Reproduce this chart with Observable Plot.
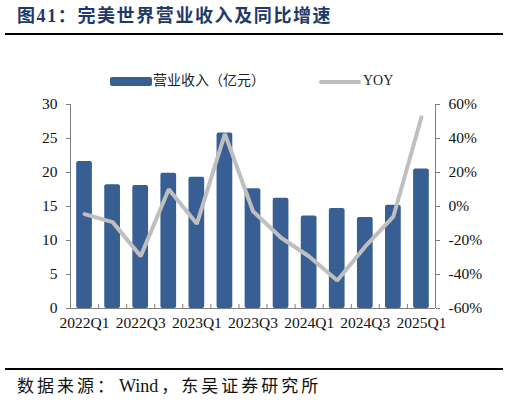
<!DOCTYPE html>
<html><head><meta charset="utf-8">
<script src="https://cdn.jsdelivr.net/npm/d3@7"></script>
<script src="https://cdn.jsdelivr.net/npm/@observablehq/plot@0.6"></script>
<style>
body{margin:0;background:#fff}
#wrap{position:relative;width:509px;height:402px;overflow:hidden;background:#fff}
#title{position:absolute;left:17px;top:4px;font-family:"Liberation Serif","Noto Sans CJK SC",serif;font-weight:bold;font-size:18px;letter-spacing:1.6px;color:#1F3A68;white-space:nowrap;line-height:24px}
.rule{position:absolute;left:5px;width:498px;height:2px;background:#000}
#legend{position:absolute;top:72px;left:0;width:509px;height:18px;font-family:"Liberation Serif","Noto Sans CJK SC",serif;font-size:14px;color:#222;white-space:nowrap}
.sw{position:absolute}
.lt{position:absolute;top:0;line-height:18px}
#chart{position:absolute;left:0;top:90px}
#source{position:absolute;left:17px;top:375px;font-family:"Liberation Serif","Noto Sans CJK SC",serif;font-size:17px;letter-spacing:3px;color:#111;white-space:nowrap;line-height:22px}
#source .lat{letter-spacing:0;font-size:18px;margin:0 3px 0 2px}
</style></head><body>
<div id="wrap">
<div id="title">图41：完美世界营业收入及同比增速</div>
<div class="rule" style="top:33px"></div>
<div id="legend"></div>
<div id="chart"></div>
<div class="rule" style="top:368px"></div>
<div id="source">数据来源：<span class="lat">Wind</span>，东吴证券研究所</div>
</div>
<script>
const quarters = ["2022Q1","2022Q2","2022Q3","2022Q4","2023Q1","2023Q2","2023Q3","2023Q4","2024Q1","2024Q2","2024Q3","2024Q4","2025Q1"];
const revenue = [21.6, 18.2, 18.1, 19.9, 19.3, 25.8, 17.6, 16.2, 13.6, 14.7, 13.4, 15.2, 20.5];
const yoy = [-4.5, -9.2, -29.2, 10.2, -10.2, 42.7, -2.8, -18.4, -29.4, -43.5, -23.5, -5.9, 52.5];
const leftTicks = [0, 5, 10, 15, 20, 25, 30];
const rightTicks = [-60, -40, -20, 0, 20, 40, 60];
const seriesNames = ["营业收入（亿元）", "YOY"];
const barColor = "#375F93";
const lineColor = "#BFBFBF";

const leftDomain = [0, 30];
const rightDomain = [-60, 60];
const toLeft = v => leftDomain[0] + (v - rightDomain[0]) / (rightDomain[1] - rightDomain[0]) * (leftDomain[1] - leftDomain[0]);
const fromLeft = v => rightDomain[0] + (v - leftDomain[0]) / (leftDomain[1] - leftDomain[0]) * (rightDomain[1] - rightDomain[0]);

const data = quarters.map((q, i) => ({q, i, rev: revenue[i], yoy: yoy[i]}));
const xDomain = [-0.5, quarters.length - 0.5];
const boundaries = quarters.slice(1).map((q, i) => i + 0.5);
const labelIdx = quarters.map((q, i) => i).filter(i => i % 2 === 0);
const axisColor = "#7F7F7F";
const half = 0.28;
const fs = 15.5;

const chart = Plot.plot({
  width: 509, height: 248,
  marginTop: 14, marginBottom: 30, marginLeft: 70, marginRight: 74,
  x: {type: "linear", domain: xDomain, axis: null, label: null},
  y: {domain: leftDomain, axis: null, label: null},
  style: {fontFamily: "Liberation Serif, serif", fontSize: fs + "px", color: "#111", background: "transparent"},
  marks: [
    Plot.rectY(data, {x1: d => d.i - half, x2: d => d.i + half, y1: 0, y2: "rev", fill: barColor, rx: 2}),
    Plot.ruleY([leftDomain[0]], {stroke: axisColor}),
    Plot.ruleX([xDomain[0]], {stroke: axisColor}),
    Plot.ruleX([xDomain[1]], {stroke: axisColor}),
    Plot.axisX(boundaries, {anchor: "bottom", tickSize: -4, tickFormat: () => "", stroke: axisColor, label: null}),
    Plot.axisX(labelIdx, {anchor: "bottom", tickSize: 0, tickPadding: 8, tickFormat: i => quarters[i], fontSize: fs, label: null}),
    Plot.axisY(leftTicks, {anchor: "left", tickSize: 4, tickPadding: 9, stroke: axisColor, fontSize: fs, label: null}),
    Plot.axisY(rightTicks.map(toLeft), {anchor: "right", tickSize: 4, tickPadding: 9, stroke: axisColor, fontSize: fs, label: null,
      tickFormat: v => `${Math.round(fromLeft(v))}%`}),
    Plot.line(data, {x: "i", y: d => toLeft(d.yoy), stroke: lineColor, strokeWidth: 4, strokeLinejoin: "miter"})
  ]
});
document.getElementById("chart").appendChild(chart);

const legend = document.getElementById("legend");
legend.innerHTML =
  `<div class="sw" style="left:110px;top:5px;width:42px;height:9px;background:${barColor};border-radius:2px"></div>` +
  `<div class="lt" style="left:153px">${seriesNames[0]}</div>` +
  `<div class="sw" style="left:319px;top:8px;width:42px;height:4px;background:${lineColor};border-radius:2px"></div>` +
  `<div class="lt" style="left:363px">${seriesNames[1]}</div>`;
</script>
</body></html>
